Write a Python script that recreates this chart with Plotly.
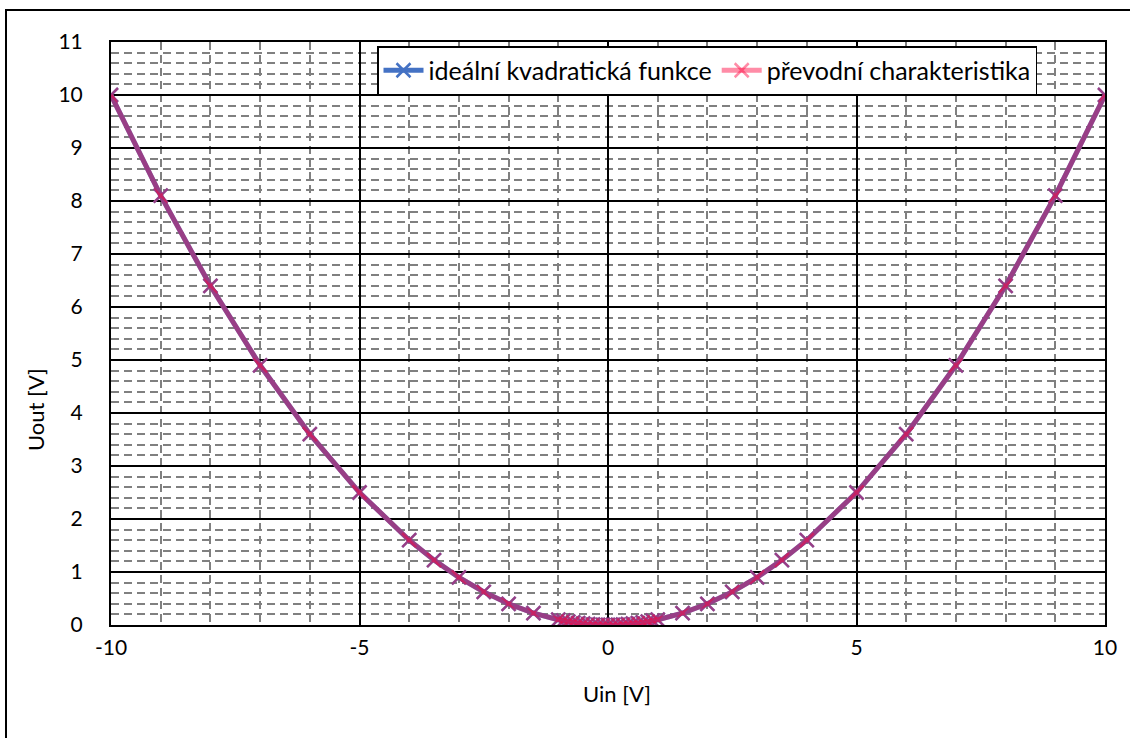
import plotly.graph_objects as go

# Input voltage samples [V]
u_in = [-10, -9, -8, -7, -6, -5, -4, -3.5, -3, -2.5, -2, -1.5,
        -1, -0.9, -0.8, -0.7, -0.6, -0.5, -0.4, -0.3, -0.2, -0.1, 0,
        0.1, 0.2, 0.3, 0.4, 0.5, 0.6, 0.7, 0.8, 0.9, 1,
        1.5, 2, 2.5, 3, 3.5, 4, 5, 6, 7, 8, 9, 10]

# Ideal quadratic function output [V]
u_ideal = [10, 8.1, 6.4, 4.9, 3.6, 2.5, 1.6, 1.225, 0.9, 0.625, 0.4, 0.225,
           0.1, 0.081, 0.064, 0.049, 0.036, 0.025, 0.016, 0.009, 0.004, 0.001, 0,
           0.001, 0.004, 0.009, 0.016, 0.025, 0.036, 0.049, 0.064, 0.081, 0.1,
           0.225, 0.4, 0.625, 0.9, 1.225, 1.6, 2.5, 3.6, 4.9, 6.4, 8.1, 10]

# Measured transfer characteristic output [V]
u_meas = [10, 8.1, 6.4, 4.9, 3.6, 2.5, 1.6, 1.225, 0.9, 0.625, 0.4, 0.225,
          0.1, 0.081, 0.064, 0.049, 0.036, 0.025, 0.016, 0.009, 0.004, 0.001, 0,
          0.001, 0.004, 0.009, 0.016, 0.025, 0.036, 0.049, 0.064, 0.081, 0.1,
          0.225, 0.4, 0.625, 0.9, 1.225, 1.6, 2.5, 3.6, 4.9, 6.4, 8.1, 10]

series_names = ["ideální kvadratická funkce", "převodní charakteristika"]

# Axis tick positions and labels (hyphen minus as in the original sheet)
x_ticks = [-10, -5, 0, 5, 10]
x_tick_text = ["-10", "-5", "0", "5", "10"]
y_ticks = [0, 1, 2, 3, 4, 5, 6, 7, 8, 9, 10, 11]
y_tick_text = ["0", "1", "2", "3", "4", "5", "6", "7", "8", "9", "10", "11"]

x_title = "Uin [V]"
y_title = "Uout [V]"

FONT = "Lato, Carlito, Calibri, sans-serif"
BLUE = "#4472C4"
PINK = "rgba(255,0,60,0.45)"

fig = go.Figure()
fig.add_trace(go.Scatter(
    x=u_in, y=u_ideal, name=series_names[0], mode="lines+markers",
    line=dict(color=BLUE, width=5),
    marker=dict(symbol="x-thin", size=14, line=dict(color=BLUE, width=2.5)),
))
fig.add_trace(go.Scatter(
    x=u_in, y=u_meas, name=series_names[1], mode="lines+markers",
    line=dict(color=PINK, width=5),
    marker=dict(symbol="x-thin", size=14, line=dict(color=PINK, width=2.5)),
))

L, R, T, B = 111, 25, 42, 113
W, H = 1130, 738
pw, ph = W - L - R, H - T - B


def px_x(p):
    return (p - L) / pw


def px_y(p):
    return (H - B - p) / ph


# outer chart frame
fig.add_shape(type="rect", xref="paper", yref="paper",
              x0=px_x(6), x1=px_x(1140), y0=px_y(10), y1=px_y(750),
              line=dict(color="black", width=2), fillcolor="rgba(0,0,0,0)",
              layer="above")

# axis titles
fig.add_annotation(text=x_title, xref="paper", yref="paper",
                   x=px_x(617), y=px_y(693), showarrow=False,
                   xanchor="center", yanchor="middle", font=dict(size=22))
fig.add_annotation(text=y_title, xref="paper", yref="paper",
                   x=px_x(35), y=px_y(410), showarrow=False, textangle=-90,
                   xanchor="center", yanchor="middle", font=dict(size=22))

grid_minor = dict(showgrid=True, gridcolor="#808080", gridwidth=1.5,
                  griddash="8px,5px", ticks="")

fig.update_layout(
    width=W, height=H,
    margin=dict(l=L, r=R, t=T, b=B),
    paper_bgcolor="white", plot_bgcolor="white",
    font=dict(family=FONT, size=20, color="black"),
    showlegend=True,
    legend=dict(
        orientation="h", x=px_x(377), y=px_y(46), xanchor="left", yanchor="top",
        bgcolor="white", bordercolor="black", borderwidth=1.5,
        font=dict(family=FONT, size=25, color="black"),
        itemwidth=40, tracegroupgap=0,
    ),
    xaxis=dict(
        range=[-10, 10], tickvals=x_ticks, ticktext=x_tick_text,
        showgrid=True, gridcolor="black",
        gridwidth=1.5, zeroline=False, showline=True, linecolor="black",
        linewidth=2, mirror=True, ticks="", ticklabelstandoff=3,
        tickfont=dict(size=21),
        minor=dict(dtick=1, tick0=-10, **grid_minor),
    ),
    yaxis=dict(
        range=[0, 11], tickvals=y_ticks, ticktext=y_tick_text,
        showgrid=True, gridcolor="black",
        gridwidth=1.5, zeroline=False, showline=True, linecolor="black",
        linewidth=2, mirror=True, ticks="", ticklabelstandoff=22,
        tickfont=dict(size=21),
        minor=dict(dtick=0.2, tick0=0, **grid_minor),
    ),
)

fig.write_html("out.html")
